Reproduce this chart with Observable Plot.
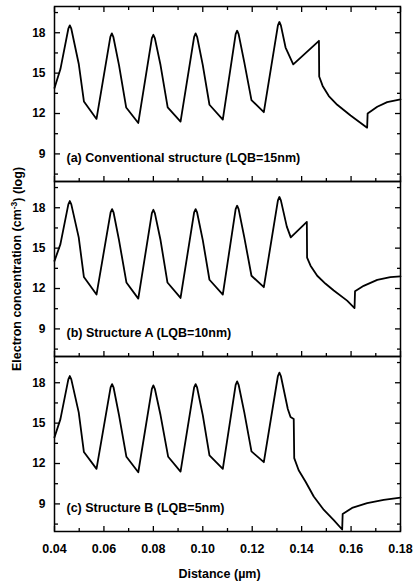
<!DOCTYPE html>
<html><head><meta charset="utf-8">
<script src="https://cdn.jsdelivr.net/npm/d3@7"></script>
<script src="https://cdn.jsdelivr.net/npm/@observablehq/plot@0.6"></script>
<style>
body{margin:0;background:#fff;}
#chart{width:414px;height:583px;}
</style>
</head><body><div id="chart"></div>
<script>
const panels = ["a", "b", "c"];
const panelLabels = ["(a) Conventional structure (LQB=15nm)", "(b) Structure A (LQB=10nm)", "(c) Structure B (LQB=5nm)"];
const yTitle = "Electron concentration (cm-3) (log)";
const xTitle = "Distance (\u00b5m)";

// (a) Conventional structure
const xA = [0.0400,0.0424,0.0456,0.0462,0.0468,0.0498,0.0519,0.0570,0.0626,0.0632,0.0638,0.0661,0.0690,0.0739,0.0794,0.0800,0.0806,0.0829,0.0858,0.0910,0.0965,0.0971,0.0977,0.1000,0.1027,0.1081,0.1133,0.1139,0.1145,0.1168,0.1197,0.1247,0.1304,0.1310,0.1316,0.1335,0.1366,0.1470,0.1471,0.1485,0.1510,0.1544,0.1598,0.1665,0.1667,0.1706,0.1746,0.1800];
const yA = [13.9,15.3,18.3,18.55,18.3,15.7,12.9,11.6,17.7,17.95,17.7,15.6,12.45,11.3,17.6,17.85,17.6,15.6,12.45,11.4,17.7,17.95,17.7,15.6,12.65,11.55,17.9,18.15,17.9,15.8,13.0,12.1,18.55,18.8,18.55,16.9,15.65,17.4,14.75,14.05,13.3,12.65,11.85,10.95,12.0,12.5,12.85,13.05];

// (b) Structure A
const xB = [0.0400,0.0424,0.0456,0.0462,0.0468,0.0498,0.0519,0.0570,0.0627,0.0633,0.0639,0.0661,0.0691,0.0739,0.0794,0.0800,0.0806,0.0829,0.0857,0.0910,0.0965,0.0971,0.0977,0.1000,0.1027,0.1081,0.1133,0.1139,0.1145,0.1168,0.1197,0.1247,0.1304,0.1310,0.1316,0.1340,0.1356,0.1421,0.1422,0.1436,0.1463,0.1497,0.1530,0.1584,0.1614,0.1616,0.1651,0.1706,0.1759,0.1800];
const yB = [14.05,15.3,18.25,18.5,18.25,15.8,12.85,11.55,17.65,17.9,17.65,15.6,12.45,11.25,17.6,17.85,17.6,15.6,12.45,11.3,17.65,17.9,17.65,15.6,12.65,11.55,17.9,18.15,17.9,15.8,12.95,12.1,18.55,18.8,18.55,16.6,15.8,16.95,14.3,13.7,12.95,12.35,11.85,11.1,10.55,11.8,12.2,12.64,12.84,12.9];

// (c) Structure B
const xC = [0.0400,0.0424,0.0456,0.0462,0.0468,0.0498,0.0519,0.0570,0.0627,0.0633,0.0639,0.0661,0.0691,0.0739,0.0794,0.0800,0.0806,0.0829,0.0860,0.0910,0.0965,0.0971,0.0977,0.1000,0.1027,0.1081,0.1133,0.1139,0.1145,0.1168,0.1197,0.1247,0.1304,0.1310,0.1316,0.1344,0.1355,0.1368,0.1370,0.1388,0.1416,0.1449,0.1490,0.1530,0.1564,0.1566,0.1604,0.1665,0.1732,0.1800];
const yC = [13.95,15.3,18.25,18.5,18.25,15.8,12.85,11.6,17.65,17.9,17.65,15.6,12.5,11.35,17.55,17.8,17.55,15.6,12.5,11.4,17.65,17.9,17.65,15.6,12.6,11.6,17.85,18.1,17.85,15.8,12.9,12.1,18.5,18.75,18.5,16.05,15.45,15.3,12.4,11.5,10.65,9.55,8.55,7.8,7.1,8.25,8.7,9.05,9.3,9.47];

const xTicks = [0.04, 0.06, 0.08, 0.10, 0.12, 0.14, 0.16, 0.18];
const xMinorTicks = [0.05, 0.07, 0.09, 0.11, 0.13, 0.15, 0.17];
const yTicks = [9, 12, 15, 18];
const yMinorTicks = [7.5, 10.5, 13.5, 16.5, 19.5];

const series = {a: [xA, yA], b: [xB, yB], c: [xC, yC]};
const data = panels.flatMap(p => series[p][0].map((x, i) => ({panel: p, x, y: series[p][1][i]})));
const labelRows = panels.map((p, i) => ({panel: p, text: panelLabels[i]}));

const font = "'Liberation Sans', Arial, sans-serif";

const chart = Plot.plot({
  width: 414,
  height: 583,
  marginLeft: 54,
  marginRight: 14,
  marginTop: 5,
  marginBottom: 52,
  style: {fontFamily: font, fontWeight: "bold", fontSize: "12px", color: "black", background: "white"},
  x: {domain: [0.04, 0.18]},
  y: {domain: [6.95, 19.95]},
  fy: {domain: panels, padding: 0, axis: null},
  marks: [
    Plot.line(data, {x: "x", y: "y", fy: "panel", stroke: "black", strokeWidth: 1.8, strokeLinejoin: "round"}),
    Plot.frame({stroke: "black", strokeWidth: 1.5}),
    // left axis
    Plot.axisY(yTicks, {anchor: "left", tickSize: -6, tickPadding: 15, label: null, fontSize: 12, fontWeight: "bold", strokeWidth: 1.3}),
    Plot.axisY(yMinorTicks, {anchor: "left", tickSize: -4, fill: "none", label: null, strokeWidth: 1.3}),
    // right axis (ticks only)
    Plot.axisY(yTicks, {anchor: "right", tickSize: -6, fill: "none", label: null, strokeWidth: 1.3}),
    Plot.axisY(yMinorTicks, {anchor: "right", tickSize: -4, fill: "none", label: null, strokeWidth: 1.3}),
    // bottom ticks on every panel
    Plot.axisX(xTicks, {anchor: "bottom", tickSize: -5, fill: "none", label: null, facetAnchor: null, strokeWidth: 1.3}),
    Plot.axisX(xMinorTicks, {anchor: "bottom", tickSize: -3, fill: "none", label: null, facetAnchor: null, strokeWidth: 1.3}),
    // bottom labels on last panel
    Plot.axisX(xTicks, {anchor: "bottom", tickSize: 0, tickPadding: 13, label: null, fontSize: 12.5, fontWeight: "bold", tickFormat: d3.format(".2f")}),
    // top ticks on first panel
    Plot.axisX(xTicks, {anchor: "top", tickSize: -5, fill: "none", label: null, strokeWidth: 1.3}),
    Plot.axisX(xMinorTicks, {anchor: "top", tickSize: -3, fill: "none", label: null, strokeWidth: 1.3}),
    // panel labels
    Plot.text(labelRows, {fy: "panel", text: "text", frameAnchor: "bottom-left", dx: 12, dy: -24, textAnchor: "start", lineAnchor: "middle", fontSize: 12.5, fontWeight: "bold", fill: "black"}),
    // y title in middle panel
    Plot.text([{panel: "b", text: yTitle}], {fy: "panel", text: "text", frameAnchor: "left", dx: -38, rotate: -90, textAnchor: "middle", lineAnchor: "middle", fontSize: 12.5, fontWeight: "bold", fill: "black", className: "ytitle"}),
    // x title in bottom panel
    Plot.text([{panel: "c", text: xTitle}], {fy: "panel", text: "text", frameAnchor: "bottom", dx: -8, dy: 42, textAnchor: "middle", lineAnchor: "middle", fontSize: 12.5, fontWeight: "bold", fill: "black"})
  ]
});

// superscript in the y title
chart.querySelectorAll("text").forEach(t => {
  if (t.textContent === yTitle) {
    t.textContent = "";
    const ns = "http://www.w3.org/2000/svg";
    const a = document.createElementNS(ns, "tspan"); a.textContent = "Electron concentration (cm";
    const s = document.createElementNS(ns, "tspan"); s.textContent = "-3"; s.setAttribute("dy", "-0.45em"); s.setAttribute("font-size", "8.5");
    const b = document.createElementNS(ns, "tspan"); b.textContent = ") (log)"; b.setAttribute("dy", "0.45em");
    t.append(a, s, b);
  }
});

document.getElementById("chart").appendChild(chart);
</script>
</body></html>
